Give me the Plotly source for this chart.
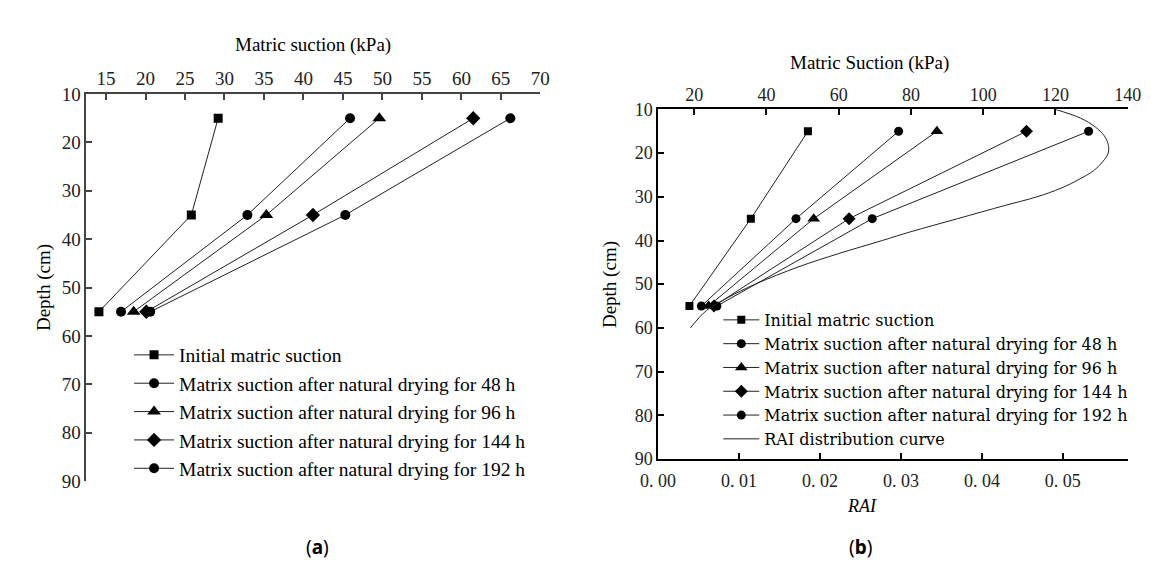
import plotly.graph_objects as go

# ---------------- data ----------------
depth = [15, 35, 55]

series_names = [
    "Initial matric suction",
    "Matrix suction after natural drying for 48 h",
    "Matrix suction after natural drying for 96 h",
    "Matrix suction after natural drying for 144 h",
    "Matrix suction after natural drying for 192 h",
]
series_symbols = ["square", "circle", "triangle-up", "diamond", "circle"]

# panel (a) matric suction (kPa)
a_initial = [29.2, 25.8, 14.1]
a_48h = [45.9, 32.9, 16.9]
a_96h = [49.6, 35.3, 18.5]
a_144h = [61.5, 41.2, 20.1]
a_192h = [66.2, 45.3, 20.6]

# panel (b) matric suction (kPa)
b_initial = [51.5, 35.7, 18.7]
b_48h = [76.6, 48.2, 22.0]
b_96h = [87.2, 53.1, 24.0]
b_144h = [112.0, 62.9, 25.5]
b_192h = [129.2, 69.3, 26.3]

# RAI distribution curve
rai_depth = [10, 12, 14, 16, 18, 20, 22, 24, 26, 28, 30, 32, 35, 38, 40, 43, 46, 50, 53, 56, 60]
rai_value = [0.0491, 0.0522, 0.0540, 0.0551, 0.0556, 0.0556, 0.0549, 0.0538, 0.0520, 0.0498,
             0.0468, 0.0428, 0.0370, 0.0312, 0.0277, 0.0223, 0.0174, 0.0120, 0.0087, 0.0060, 0.0040]

a_ticks = [15, 20, 25, 30, 35, 40, 45, 50, 55, 60, 65, 70]
b_ticks = [20, 40, 60, 80, 100, 120, 140]
rai_ticks = [0.0, 0.01, 0.02, 0.03, 0.04, 0.05]
rai_ticktext = ["0. 00", "0. 01", "0. 02", "0. 03", "0. 04", "0. 05"]
depth_ticks = [10, 20, 30, 40, 50, 60, 70, 80, 90]

W, H = 1156, 563
def px(x):
    return x / W
def py(y):
    return 1 - y / H

SERIF = "Liberation Serif"
fig = go.Figure()

a_series = [a_initial, a_48h, a_96h, a_144h, a_192h]
b_series = [b_initial, b_48h, b_96h, b_144h, b_192h]

a_sizes = {"square": 9, "circle": 10, "triangle-up": 12, "diamond": 11}
b_sizes = {"square": 8, "circle": 9, "triangle-up": 11, "diamond": 10}

for name, sym, vals in zip(series_names, series_symbols, a_series):
    fig.add_trace(go.Scatter(
        x=vals, y=depth, mode="lines+markers", name=name,
        xaxis="x", yaxis="y", legend="legend",
        line=dict(color="#222222", width=1),
        marker=dict(symbol=sym, size=a_sizes[sym], color="black"),
    ))

for name, sym, vals in zip(series_names, series_symbols, b_series):
    fig.add_trace(go.Scatter(
        x=vals, y=depth, mode="lines+markers", name=name,
        xaxis="x2", yaxis="y2", legend="legend2",
        line=dict(color="#222222", width=1),
        marker=dict(symbol=sym, size=b_sizes[sym], color="black"),
    ))

fig.add_trace(go.Scatter(
    x=rai_value, y=rai_depth, mode="lines", name="RAI distribution curve",
    xaxis="x3", yaxis="y2", legend="legend2",
    line=dict(color="#222222", width=1, shape="spline"),
))

axis_a = dict(
    showgrid=False, zeroline=False, showline=True, linecolor="#444444", linewidth=1.5,
    ticks="inside", ticklen=6, tickcolor="#444444", tickwidth=1.5,
    tickfont=dict(family=SERIF, size=19, color="#222222"),
)
axis_b = dict(
    showgrid=False, zeroline=False, showline=True, linecolor="black", linewidth=1.5,
    ticks="inside", ticklen=6, tickcolor="black", tickwidth=1.5,
    tickfont=dict(family=SERIF, size=18, color="#222222"),
)

fig.update_layout(
    width=W, height=H,
    margin=dict(l=0, r=0, t=0, b=0),
    paper_bgcolor="white", plot_bgcolor="white",
    showlegend=True,
    xaxis=dict(domain=[px(62), px(529)], anchor="y", side="top", range=[12.5, 70],
               tickvals=a_ticks, **axis_a),
    yaxis=dict(domain=[py(481), py(79)], anchor="x", range=[90, 10],
               tickvals=depth_ticks, **axis_a),
    xaxis2=dict(domain=[px(650), px(1133)], anchor="y2", side="top", range=[10, 140],
                tickvals=b_ticks, **axis_b),
    xaxis3=dict(domain=[px(650), px(1133)], anchor="y2", side="bottom", overlaying="x2",
                range=[0, 0.058], tickvals=rai_ticks, ticktext=rai_ticktext,
                ticklabelstandoff=5, **axis_b),
    yaxis2=dict(domain=[py(458), py(95)], anchor="x2", range=[90, 10],
                tickvals=depth_ticks, **axis_b),
    legend=dict(x=px(106), y=py(330), xanchor="left", yanchor="top",
                bgcolor="rgba(0,0,0,0)", itemwidth=40,
                font=dict(family=SERIF, size=19.5, color="black"), tracegroupgap=0),
    legend2=dict(x=px(712), y=py(296), xanchor="left", yanchor="top",
                 bgcolor="rgba(0,0,0,0)", itemwidth=36,
                 font=dict(family="DejaVu Serif", size=16, color="black"), tracegroupgap=0),
)

annotations = [
    dict(text="Matric suction (kPa)", x=px(295), y=py(28), font=dict(family=SERIF, size=19)),
    dict(text="Depth (cm)", x=px(18), y=py(280), textangle=-90, font=dict(family=SERIF, size=19)),
    dict(text="Matric Suction (kPa)", x=px(868), y=py(47), font=dict(family=SERIF, size=19)),
    dict(text="Depth (cm)", x=px(600), y=py(277), textangle=-90, font=dict(family=SERIF, size=19)),
    dict(text="<i>RAI</i>", x=px(860), y=py(507), font=dict(family=SERIF, size=18)),
    dict(text="(<b>a</b>)", x=px(300), y=py(549), font=dict(family="Noto Sans", size=19)),
    dict(text="(<b>b</b>)", x=px(858), y=py(549), font=dict(family="Noto Sans", size=19)),
]
for a in annotations:
    a.update(xref="paper", yref="paper", showarrow=False, xanchor="center", yanchor="middle")
    a["font"]["color"] = "black"
fig.update_layout(annotations=annotations)

fig.write_html("out.html")
